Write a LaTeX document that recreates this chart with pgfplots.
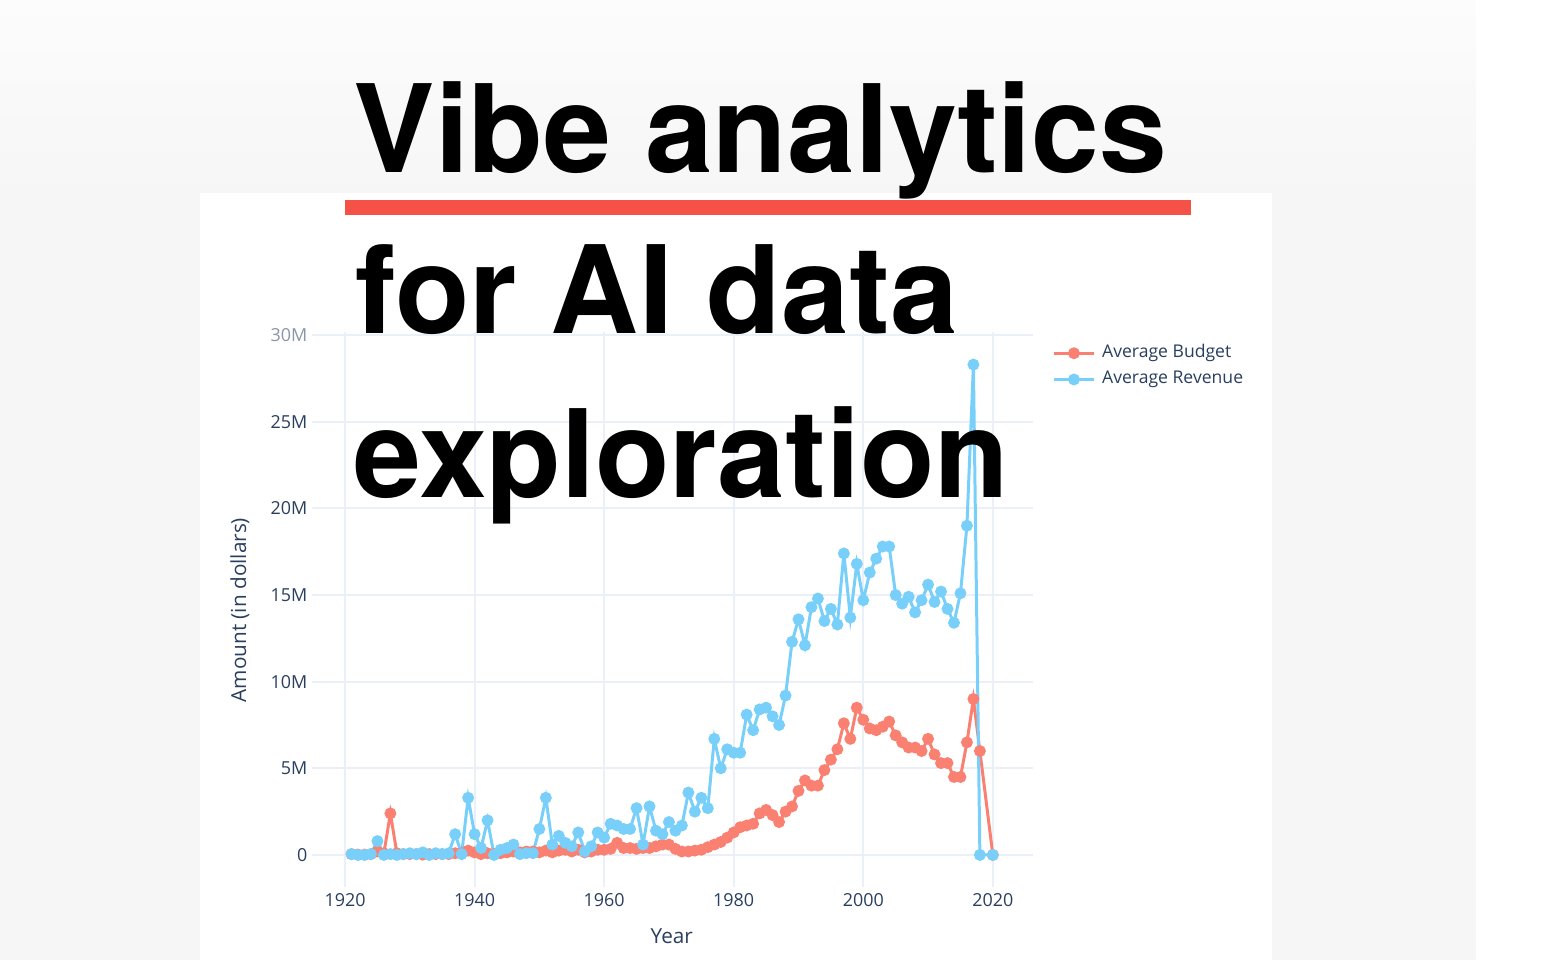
\documentclass[border=0pt]{standalone}
\usepackage{pgfplots}
\pgfplotsset{compat=1.18}
\usepackage{fontspec}
\setmainfont{Open Sans}
\newfontfamily\titlefont{TeX Gyre Heros}
\definecolor{bgg}{HTML}{F6F6F6}
\definecolor{bgl}{HTML}{FCFCFC}
\definecolor{redbar}{HTML}{F55146}
\definecolor{budget}{HTML}{FA8072}
\definecolor{revenue}{HTML}{78D0FA}
\definecolor{gridc}{HTML}{EBF0F8}
\definecolor{tickc}{HTML}{2A3F5F}
\definecolor{tickl}{HTML}{8A96AA}

\pgfplotstableread{
year val
1921 0.05
1922 0.02
1923 0.02
1924 0.05
1925 0.2
1926 0.1
1927 2.4
1928 0.1
1929 0.05
1930 0.05
1931 0.05
1932 0.02
1933 0.05
1934 0.05
1935 0.05
1936 0.05
1937 0.1
1938 0.1
1939 0.25
1940 0.15
1941 0.05
1942 0.1
1943 0.05
1944 0.1
1945 0.15
1946 0.2
1947 0.15
1948 0.2
1949 0.2
1950 0.15
1951 0.25
1952 0.15
1953 0.25
1954 0.3
1955 0.2
1956 0.3
1957 0.15
1958 0.2
1959 0.3
1960 0.3
1961 0.35
1962 0.7
1963 0.4
1964 0.4
1965 0.35
1966 0.4
1967 0.4
1968 0.5
1969 0.6
1970 0.6
1971 0.35
1972 0.2
1973 0.2
1974 0.25
1975 0.3
1976 0.45
1977 0.6
1978 0.75
1979 1.0
1980 1.3
1981 1.6
1982 1.7
1983 1.8
1984 2.4
1985 2.6
1986 2.3
1987 1.9
1988 2.5
1989 2.8
1990 3.7
1991 4.3
1992 4.0
1993 4.0
1994 4.9
1995 5.5
1996 6.1
1997 7.6
1998 6.7
1999 8.5
2000 7.8
2001 7.3
2002 7.2
2003 7.4
2004 7.7
2005 6.9
2006 6.5
2007 6.2
2008 6.2
2009 6.0
2010 6.7
2011 5.8
2012 5.3
2013 5.3
2014 4.5
2015 4.5
2016 6.5
2017 9.0
2018 6.0
2020 0.0
}\budgettable

\pgfplotstableread{
year val
1921 0.05
1922 0.0
1923 0.0
1924 0.05
1925 0.8
1926 0.0
1927 0.05
1928 0.0
1929 0.05
1930 0.1
1931 0.05
1932 0.15
1933 0.0
1934 0.1
1935 0.05
1936 0.1
1937 1.2
1938 0.05
1939 3.3
1940 1.2
1941 0.4
1942 2.0
1943 0.0
1944 0.3
1945 0.4
1946 0.6
1947 0.05
1948 0.1
1949 0.1
1950 1.5
1951 3.3
1952 0.6
1953 1.1
1954 0.7
1955 0.5
1956 1.3
1957 0.2
1958 0.5
1959 1.3
1960 1.0
1961 1.8
1962 1.7
1963 1.5
1964 1.5
1965 2.7
1966 0.6
1967 2.8
1968 1.4
1969 1.2
1970 1.9
1971 1.4
1972 1.7
1973 3.6
1974 2.5
1975 3.3
1976 2.7
1977 6.7
1978 5.0
1979 6.1
1980 5.9
1981 5.9
1982 8.1
1983 7.2
1984 8.4
1985 8.5
1986 8.0
1987 7.5
1988 9.2
1989 12.3
1990 13.6
1991 12.1
1992 14.3
1993 14.8
1994 13.5
1995 14.2
1996 13.3
1997 17.4
1998 13.7
1999 16.8
2000 14.7
2001 16.3
2002 17.1
2003 17.8
2004 17.8
2005 15.0
2006 14.5
2007 14.9
2008 14.0
2009 14.7
2010 15.6
2011 14.6
2012 15.2
2013 14.2
2014 13.4
2015 15.1
2016 19.0
2017 28.3
2018 0.0
2020 0.0
}\revenuetable

\begin{document}
\begin{tikzpicture}
\useasboundingbox (0,0) rectangle (15.48,9.6);
% background
\fill[bgg] (0,0) rectangle (14.76,9.6);
\shade[top color=bgl, bottom color=bgg] (0,7.6) rectangle (14.76,9.6);
\fill[white] (14.76,0) rectangle (15.48,9.6);
\fill[white] (2.00,0) rectangle (12.72,7.67);

\begin{axis}[
  at={(3.12cm,0.73cm)}, anchor=south west,
  scale only axis, width=7.21cm, height=5.55cm,
  xmin=1914.9, xmax=2026.2, ymin=-1.85, ymax=30.18,
  axis line style={draw=none},
  major tick length=0pt,
  grid=major, major grid style={gridc, line width=0.6pt},
  xtick={1920,1940,...,2020},
  ytick={0,5,10,15,20,25,30},
  yticklabels={0,5M,10M,15M,20M,25M,\textcolor{tickl}{30M}},
  xticklabel style={/pgf/number format/1000 sep={}, inner sep=0pt, anchor=north, yshift=-0.06cm},
  yticklabel style={inner sep=0pt, anchor=east, xshift=-0.04cm},
  /pgf/number format/assume math mode=true,
  tick label style={font=\fontsize{5.1}{6}\selectfont, text=tickc},
  xlabel={Year}, ylabel={Amount (in dollars)},
  label style={font=\fontsize{5.9}{7}\selectfont, text=tickc},
  xlabel style={at={(axis description cs:0.499,-0.088)}, anchor=center},
  ylabel style={at={(axis description cs:-0.10,0.499)}, anchor=center},
  legend style={at={(axis description cs:1.026,0.983)}, anchor=north west,
    draw=none, fill=none, inner sep=0pt, row sep=0.045cm,
    font=\fontsize{5.0}{6}\selectfont, text=tickc,
    nodes={inner sep=0.5pt}},
  legend cell align=left,
  legend image code/.code={\draw[mark repeat=2,mark phase=2,#1] plot coordinates {(0cm,0cm) (0.2cm,0cm) (0.4cm,0cm)}; \path (0.45cm,0cm);},
  clip=false,
]
\addplot[budget, line width=0.85pt, mark=*, mark size=1.25pt] table[x=year,y=val] {\budgettable};
\addlegendentry{Average Budget}
\addplot[revenue, line width=0.85pt, mark=*, mark size=1.25pt] table[x=year,y=val] {\revenuetable};
\addlegendentry{Average Revenue}
\end{axis}

% title
\fill[redbar] (3.45,7.45) rectangle (11.91,7.60);
\begin{scope}[every node/.style={anchor=base west, inner sep=0pt, font=\titlefont\bfseries\fontsize{34.7}{40}\selectfont}]
\node at (3.53,7.88) {Vibe analytics};
\node at (3.55,6.27) {for AI data};
\node at (3.53,4.63) {exploration};
\end{scope}
\end{tikzpicture}
\end{document}
